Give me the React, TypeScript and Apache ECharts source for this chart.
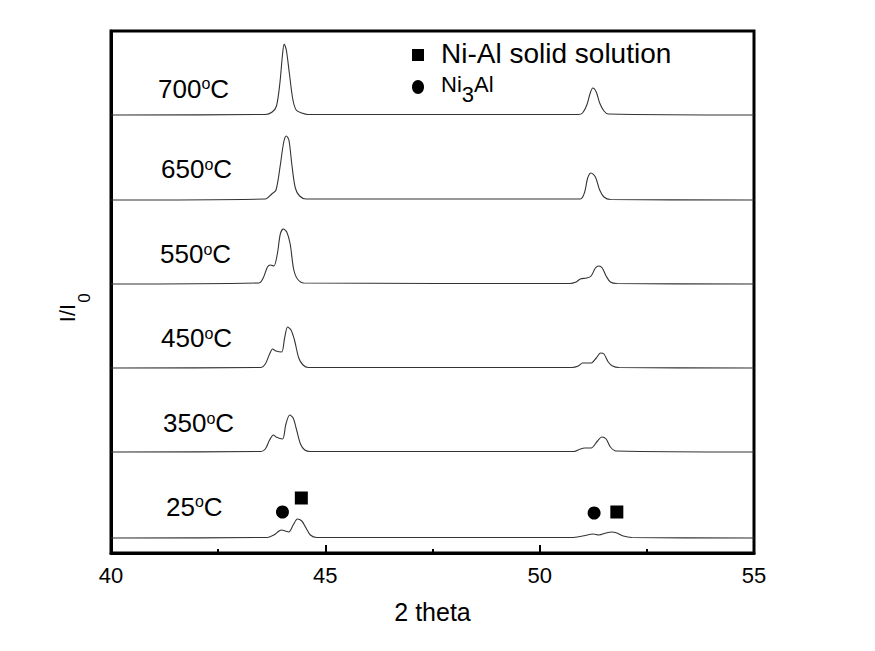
import React, { useEffect, useRef } from 'react';
import * as echarts from 'echarts';

// ---- data (2theta in degrees, relative intensity in arbitrary units) ----
const temperatures = ['700', '650', '550', '450', '350', '25'];
const baselineOffsets = [438, 353, 269, 185, 101, 15];

const trace700 = [
  [40, 0], [43.6, 0.5], [43.76, 3], [43.86, 9], [43.94, 32], [44.0, 60], [44.04, 71], [44.09, 65],
  [44.16, 42], [44.24, 16], [44.32, 5], [44.45, 2], [44.6, 0.5],
  [50.9, 0.5], [51.0, 2], [51.1, 10], [51.18, 22], [51.24, 27], [51.32, 23], [51.4, 12], [51.5, 4], [51.6, 1], [55, 0],
];
const trace650 = [
  [40, 0], [43.6, 1], [43.75, 6], [43.85, 10], [43.95, 35], [44.03, 58], [44.09, 64], [44.15, 60],
  [44.22, 35], [44.3, 12], [44.4, 4], [44.55, 1],
  [50.95, 1], [51.05, 8], [51.12, 22], [51.2, 27], [51.3, 23], [51.4, 10], [51.5, 3], [51.65, 0.5], [55, 0],
];
const trace550 = [
  [40, 0], [43.45, 1], [43.55, 6], [43.65, 17], [43.72, 19], [43.8, 18], [43.88, 30], [43.95, 50],
  [44.02, 55], [44.1, 52], [44.18, 40], [44.26, 15], [44.35, 5], [44.5, 1],
  [50.7, 0.5], [50.85, 2], [50.95, 5], [51.1, 6], [51.2, 8], [51.3, 16], [51.38, 18], [51.46, 16],
  [51.55, 8], [51.65, 2], [51.8, 0.5], [55, 0],
];
const trace450 = [
  [40, 0], [43.5, 0.5], [43.6, 4], [43.7, 14], [43.77, 19], [43.85, 17], [43.98, 16], [44.05, 30],
  [44.12, 41], [44.2, 38], [44.28, 28], [44.38, 10], [44.48, 3], [44.6, 0.5],
  [50.75, 0.5], [50.9, 2], [51.0, 5], [51.2, 5], [51.32, 10], [51.42, 15], [51.5, 14], [51.6, 6],
  [51.7, 2], [51.85, 0.5], [55, 0],
];
const trace350 = [
  [40, 0], [43.5, 0.5], [43.6, 3], [43.7, 12], [43.79, 17], [43.85, 15], [44.0, 13], [44.08, 28],
  [44.17, 37], [44.25, 34], [44.33, 22], [44.42, 8], [44.52, 2], [44.65, 0.5],
  [50.8, 0.5], [50.95, 3], [51.05, 4], [51.2, 4], [51.35, 11], [51.45, 15], [51.55, 13], [51.65, 5],
  [51.78, 1], [55, 0],
];
const trace25 = [
  [40, 0], [43.65, 0.5], [43.8, 3], [43.92, 7], [43.98, 8], [44.06, 7], [44.15, 6], [44.25, 13],
  [44.35, 19], [44.45, 17], [44.55, 10], [44.65, 3], [44.8, 0.5],
  [50.75, 0.5], [51.0, 2], [51.25, 4], [51.38, 3], [51.55, 5], [51.68, 6], [51.8, 5], [51.95, 2],
  [52.15, 0.5], [55, 0],
];
const traces = [trace700, trace650, trace550, trace450, trace350, trace25];

// phase markers on the 25 °C pattern
const ni3alMarks = [[44.0, 41], [51.27, 40]];
const solidSolutionMarks = [[44.44, 55], [51.8, 41]];

const xMin = 40;
const xMax = 55;
const xInterval = 5;
const yMax = 522;

const FONT = '"Liberation Sans", Arial, Helvetica, sans-serif';

// label layout (pixels)
const labelX = [158, 161, 160, 161, 163, 166];
const labelY = [88.5, 169, 254, 338, 423, 506.5];

export default function App() {
  const ref = useRef<HTMLDivElement>(null);

  useEffect(() => {
    if (!ref.current) return;
    const chart = echarts.init(ref.current, undefined, { renderer: 'svg' });

    const lineSeries = traces.map((tr, i) => ({
      type: 'line',
      name: temperatures[i] + '°C',
      data: tr.map(([x, v]) => [x, v + baselineOffsets[i]]),
      showSymbol: false,
      smooth: 0.3,
      lineStyle: { color: '#333', width: 1.1 },
      silent: true,
      z: 2,
    }));

    const tempLabels = temperatures.map((t, i) => ({
      type: 'text',
      x: labelX[i],
      y: labelY[i],
      style: {
        text: `{n|${t}}{s|o}{n|C}`,
        align: 'left',
        verticalAlign: 'middle',
        fill: '#000',
        fontFamily: FONT,
        fontSize: 26,
        rich: {
          n: { fontSize: 26, lineHeight: 26, fontFamily: FONT, fill: '#000' },
          s: { fontSize: 16, lineHeight: 10, verticalAlign: 'top', fontFamily: FONT, fill: '#000' },
        },
      },
    }));

    chart.setOption({
      animation: false,
      backgroundColor: '#fff',
      grid: {
        left: 111,
        top: 31,
        right: 121,
        bottom: 98,
        show: true,
        borderColor: '#000',
        borderWidth: 3,
        backgroundColor: 'transparent',
        outerBoundsMode: 'none',
      },
      xAxis: {
        type: 'value',
        min: xMin,
        max: xMax,
        interval: xInterval,
        name: '2 theta',
        nameLocation: 'middle',
        nameGap: 46,
        nameTextStyle: { fontFamily: FONT, fontSize: 25, color: '#000' },
        axisLine: { show: true, lineStyle: { color: '#000', width: 3 } },
        axisTick: { show: true, inside: true, length: 8, lineStyle: { color: '#000', width: 2 } },
        minorTick: { show: true, splitNumber: 2, length: 4, lineStyle: { color: '#000', width: 2 } },
        axisLabel: { fontFamily: FONT, fontSize: 22, color: '#000', margin: 11 },
        splitLine: { show: false },
        minorSplitLine: { show: false },
      },
      yAxis: {
        type: 'value',
        min: 0,
        max: yMax,
        axisLine: { show: true, lineStyle: { color: '#000', width: 3 } },
        axisTick: { show: false },
        axisLabel: { show: false },
        splitLine: { show: false },
      },
      series: [
        ...lineSeries,
        {
          type: 'scatter',
          name: 'Ni3Al',
          data: ni3alMarks,
          symbol: 'circle',
          symbolSize: 13,
          itemStyle: { color: '#000', opacity: 1 },
          silent: true,
          z: 3,
        },
        {
          type: 'scatter',
          name: 'Ni-Al solid solution',
          data: solidSolutionMarks,
          symbol: 'rect',
          symbolSize: 13,
          itemStyle: { color: '#000', opacity: 1 },
          silent: true,
          z: 3,
        },
      ],
      graphic: [
        ...tempLabels,
        {
          type: 'rect',
          shape: { x: 412, y: 49, width: 12, height: 12 },
          style: { fill: '#000' },
        },
        {
          type: 'ellipse',
          shape: { cx: 418, cy: 87, rx: 6, ry: 7 },
          style: { fill: '#000' },
        },
        {
          type: 'text',
          x: 441,
          y: 53,
          style: {
            text: 'Ni-Al solid solution',
            align: 'left',
            verticalAlign: 'middle',
            fill: '#000',
            fontFamily: FONT,
            fontSize: 28,
          },
        },
        {
          type: 'text',
          x: 441,
          y: 84,
          style: {
            text: '{a|Ni}{b|3}{a|Al}',
            align: 'left',
            verticalAlign: 'middle',
            fill: '#000',
            fontFamily: FONT,
            fontSize: 22,
            rich: {
              a: { fontSize: 22, lineHeight: 22, fontFamily: FONT, fill: '#000' },
              b: { fontSize: 22, lineHeight: 22, padding: [20, 0, 0, 0], fontFamily: FONT, fill: '#000' },
            },
          },
        },
        {
          type: 'text',
          x: 67,
          y: 313,
          rotation: Math.PI / 2,
          style: {
            text: 'I/I',
            align: 'center',
            verticalAlign: 'middle',
            fill: '#000',
            fontFamily: FONT,
            fontSize: 22,
          },
        },
        {
          type: 'text',
          x: 84,
          y: 298,
          rotation: Math.PI / 2,
          style: {
            text: '0',
            align: 'center',
            verticalAlign: 'middle',
            fill: '#000',
            fontFamily: FONT,
            fontSize: 17,
          },
        },
      ],
    });

    return () => chart.dispose();
  }, []);

  return (
    <div
      ref={ref}
      style={{ position: 'fixed', left: 0, top: 0, width: 875, height: 651, background: '#fff' }}
    />
  );
}
